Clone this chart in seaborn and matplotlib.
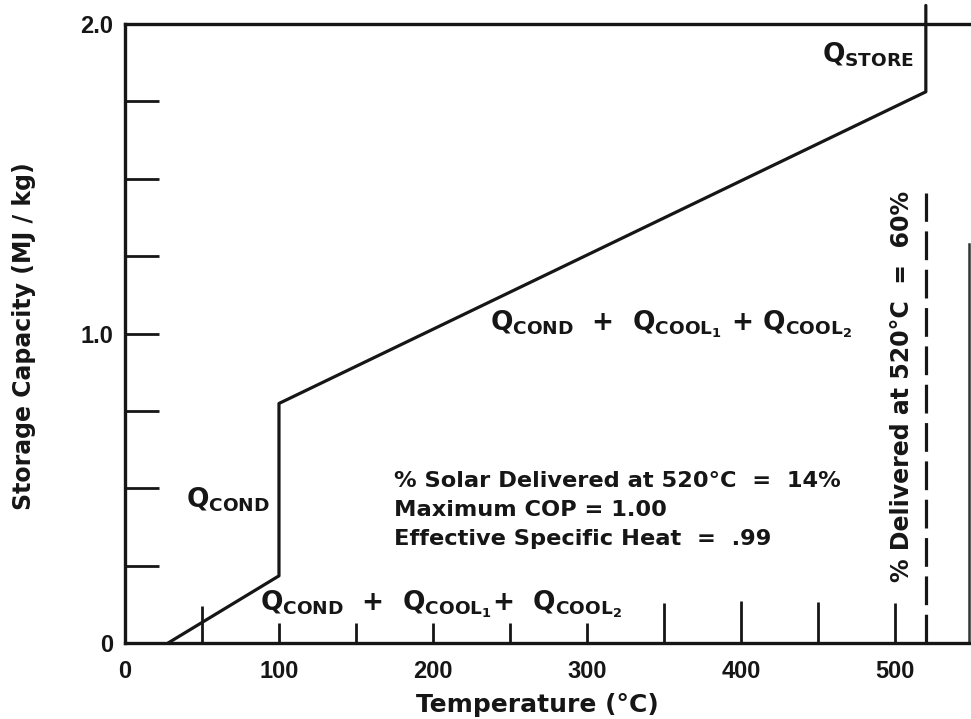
import numpy as np
import matplotlib
matplotlib.use("Agg")
import matplotlib.pyplot as plt
import seaborn as sns

# storage curve (temperature in C, capacity in MJ/kg)
temp_c = [28, 100, 100, 520, 520]
capacity = [0.0, 0.217, 0.774, 1.781, 2.06]

# dashed "% delivered" marker at 520 C
delivered_temp = [520, 520]
delivered_cap = [0.0, 1.454]

x_ticks = [0, 50, 100, 150, 200, 250, 300, 350, 400, 450, 500]
x_tick_labels = ["0", "", "100", "", "200", "", "300", "", "400", "", "500"]
y_ticks = [0, 0.25, 0.5, 0.75, 1.0, 1.25, 1.5, 1.75, 2.0]
y_tick_labels = ["0", "", "", "", "1.0", "", "", "", "2.0"]

info_lines = [
    "% Solar Delivered at 520°C  =  14%",
    "Maximum COP = 1.00",
    "Effective Specific Heat  =  .99",
]

INK = "#161616"

sns.set_theme(style="white")
plt.rcParams["font.family"] = ["DejaVu Sans"]
plt.rcParams["mathtext.fontset"] = "dejavusans"
plt.rcParams["mathtext.default"] = "bf"

fig = plt.figure(figsize=(9.71, 7.19), dpi=100)
ax = fig.add_axes([0.1287, 0.1057, 0.8692, 0.8609])

sns.lineplot(x=temp_c, y=capacity, sort=False, estimator=None, color=INK,
             lw=2.3, ax=ax, clip_on=False)
sns.lineplot(x=delivered_temp, y=delivered_cap, sort=False, estimator=None,
             color=INK, lw=2.3, ax=ax, linestyle=(0, (9, 3)))

ax.set_xlim(0, 548)
ax.set_ylim(0, 2.0)

for side in ["left", "top", "bottom"]:
    ax.spines[side].set_linewidth(2.4)
    ax.spines[side].set_color(INK)
ax.spines["right"].set_linewidth(1.8)
ax.spines["right"].set_color("#333333")
ax.spines["right"].set_bounds(0, 1.29)

# ticks point inward, labels only at the round values
ax.set_xticks(x_ticks)
ax.set_xticklabels(x_tick_labels)
ax.set_yticks(y_ticks)
ax.set_yticklabels(y_tick_labels)
ax.tick_params(axis="x", direction="in", bottom=True, width=2.0, length=14.4,
               pad=12, labelsize=17, colors=INK)
ax.tick_params(axis="y", direction="in", left=True, width=2.0, length=24.5,
               pad=8.5, labelsize=17, colors=INK)
x_len_px = [0, 37, 20, 20, 20, 20, 20, 40, 42, 41, 40]
for tick, L in zip(ax.xaxis.get_major_ticks(), x_len_px):
    tick.tick1line.set_markersize(L * 0.72)
for lab in ax.get_xticklabels() + ax.get_yticklabels():
    lab.set_fontfamily("Liberation Sans")
    lab.set_fontweight("bold")

ax.set_xlabel("Temperature (°C)", fontsize=18, fontweight="bold", color=INK)
ax.xaxis.set_label_coords(0.489, -0.081)
ax.set_ylabel("Storage Capacity (MJ / kg)", fontsize=17, fontweight="bold", color=INK)
ax.yaxis.set_label_coords(-0.106, 0.496)

# curve annotations
ax.text(512, 1.877, r"$Q_{STORE}$", fontsize=19, ha="right", va="baseline", color=INK)
ax.text(237, 1.011, r"$Q_{COND}$  +  $Q_{COOL_1}$ + $Q_{COOL_2}$", fontsize=19,
        fontweight="bold", ha="left", va="baseline", color=INK)
ax.text(94, 0.439, r"$Q_{COND}$", fontsize=19, ha="right", va="baseline", color=INK)
ax.text(88, 0.107, r"$Q_{COND}$  +  $Q_{COOL_1}$+  $Q_{COOL_2}$", fontsize=19,
        fontweight="bold", ha="left", va="baseline", color=INK)

for i, line in enumerate(info_lines):
    ax.text(175, 0.504 - i * 0.094, line, fontsize=16.2, fontweight="bold",
            ha="left", va="baseline", color=INK)

ax.text(504.5, 0.83, "% Delivered at 520°C  =  60%", rotation=90, fontsize=17,
        fontweight="bold", ha="center", va="center", color=INK)

fig.savefig("out.png", dpi=100, facecolor="white")
